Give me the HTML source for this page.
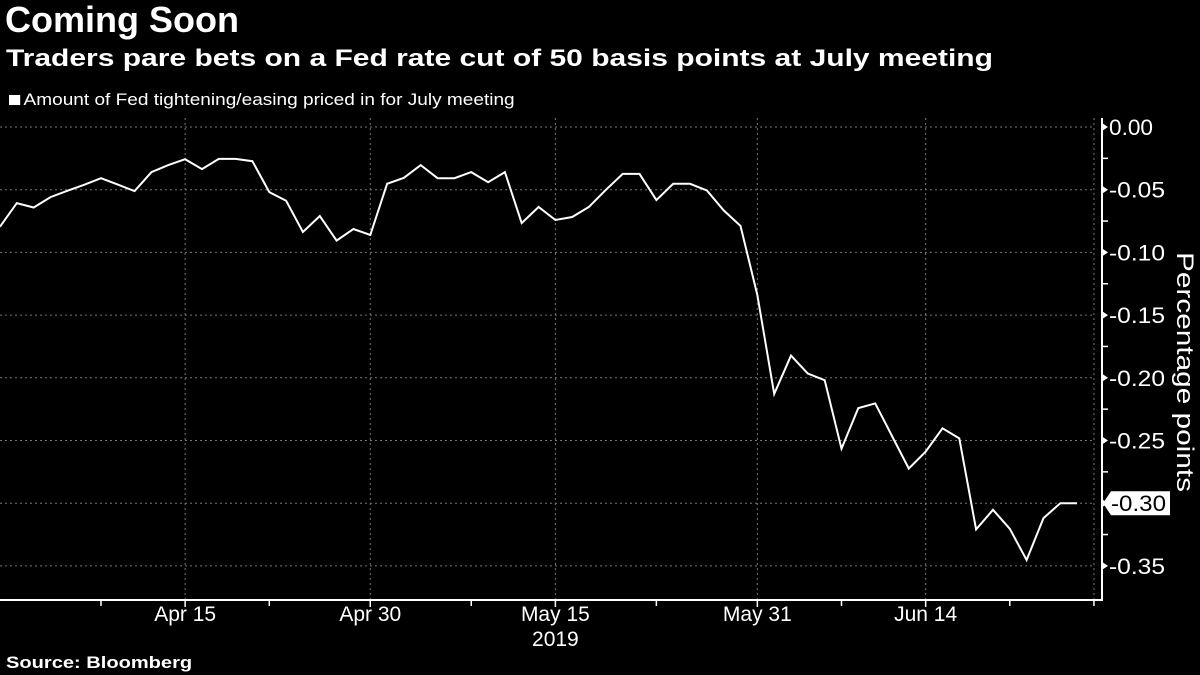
<!DOCTYPE html>
<html><head><meta charset="utf-8">
<style>
html,body{margin:0;padding:0;background:#000;width:1200px;height:675px;overflow:hidden;font-family:"Liberation Sans",sans-serif;color:#fff}
.t{position:absolute;white-space:nowrap;transform-origin:0 0}
</style></head><body>
<div class="t" style="left:5px;top:-1px;font-size:36px;font-weight:bold">Coming Soon</div>
<div class="t" style="left:6px;top:45px;font-size:24px;font-weight:bold;transform:scaleX(1.25)">Traders pare bets on a Fed rate cut of 50 basis points at July meeting</div>
<div class="t" style="left:9px;top:90px;font-size:17px;transform:scaleX(1.12)"><span style="display:inline-block;width:10px;height:10px;background:#fff;margin-right:3px"></span>Amount of Fed tightening/easing priced in for July meeting</div>
<div class="t" style="left:6px;top:653px;font-size:17px;font-weight:bold;transform:scaleX(1.18)">Source: Bloomberg</div>
<svg id="c" width="1200" height="675" style="position:absolute;left:0;top:0"></svg>
<script>
const values=[-0.0795,-0.0607,-0.0642,-0.0559,-0.0509,-0.0461,-0.0408,-0.0459,-0.0511,-0.0360,-0.0304,-0.0257,-0.0336,-0.0254,-0.0254,-0.0273,-0.0519,-0.0588,-0.0837,-0.0710,-0.0906,-0.0813,-0.0861,-0.0453,-0.0405,-0.0304,-0.0408,-0.0408,-0.0360,-0.0440,-0.0360,-0.0766,-0.0638,-0.0742,-0.0718,-0.0636,-0.0501,-0.0374,-0.0374,-0.0583,-0.0453,-0.0453,-0.0506,-0.0665,-0.0789,-0.1338,-0.2128,-0.1823,-0.1966,-0.2019,-0.2565,-0.2242,-0.2204,-0.2464,-0.2724,-0.2589,-0.2403,-0.2483,-0.3209,-0.3053,-0.3204,-0.3453,-0.3119,-0.3000,-0.3000];
const xTickIdx=[11,22,33,45,55];
const xTickLabels=["Apr 15","Apr 30","May 15","May 31","Jun 14"];
const xMinorIdx=[6,16,28,39,50,60,65];
const yTicks=[0,-0.05,-0.10,-0.15,-0.20,-0.25,-0.30,-0.35];
const yTickLabels=["0.00","-0.05","-0.10","-0.15","-0.20","-0.25","-0.30","-0.35"];
const lastLabel="-0.30";
const NS="http://www.w3.org/2000/svg";
const svg=document.getElementById('c');
const X=i=>i*16.83;
const Y=v=>127-v/0.05*62.7;
function mk(t,a){const e=document.createElementNS(NS,t);for(const k in a)e.setAttribute(k,a[k]);svg.appendChild(e);return e;}
yTicks.forEach((v,i)=>{
  const g=mk('line',{x1:0,x2:1095,y1:Y(v),y2:Y(v),stroke:'#777','stroke-width':1,'stroke-dasharray':'2,3'});
  
  
  const tr=mk('path',{d:`M1102,${Y(v)-4}L1108,${Y(v)}L1102,${Y(v)+4}Z`,fill:'#fff'});
  
  
  if(i<yTicks.length-1){const m=mk('line',{x1:1102,x2:1108,y1:Y(v-0.025),y2:Y(v-0.025),stroke:'#fff','stroke-width':1.5});
  
  }
  if(yTickLabels[i]!==lastLabel){
  const t=mk('text',{x:1109,y:Y(v)+8,fill:'#fff','font-size':22,'font-family':'Liberation Sans, sans-serif','lengthAdjust':'spacingAndGlyphs'});
  t.textContent=yTickLabels[i];
  t.setAttribute('textLength',yTickLabels[i].length===4?44:56);
  
  }
});
xTickIdx.forEach((idx,i)=>{
  const g=mk('line',{x1:X(idx),x2:X(idx),y1:118,y2:600,stroke:'#777','stroke-width':1,'stroke-dasharray':'2,3'});
  
  
  const tk=mk('line',{x1:X(idx),x2:X(idx),y1:600,y2:607,stroke:'#fff','stroke-width':1.5});
  
  
  const t=mk('text',{x:X(idx),y:621,fill:'#fff','font-size':21,'text-anchor':'middle','font-family':'Liberation Sans, sans-serif'});
  t.textContent=xTickLabels[i];
  
  
});
const eg=mk('line',{x1:X(65),x2:X(65),y1:118,y2:600,stroke:'#777','stroke-width':1,'stroke-dasharray':'2,3'});


xMinorIdx.forEach(idx=>{
  const tk=mk('line',{x1:X(idx),x2:X(idx),y1:600,y2:606,stroke:'#fff','stroke-width':1.5});
  
  
});
const yr=mk('text',{x:X(33),y:646,fill:'#fff','font-size':21,'text-anchor':'middle','font-family':'Liberation Sans, sans-serif'});
yr.textContent='2019';


const xa=mk('line',{x1:0,x2:1102,y1:600,y2:600,stroke:'#fff','stroke-width':2});


const ya=mk('line',{x1:1102,x2:1102,y1:118,y2:601,stroke:'#fff','stroke-width':2});


const pts=values.map((v,i)=>X(i).toFixed(1)+','+Y(v).toFixed(1)).join(' ');
const ln=mk('polyline',{points:pts,fill:'none',stroke:'#fff','stroke-width':2,'stroke-linejoin':'miter'});


const lv=values[values.length-1], ly=Y(lv);
const box=mk('path',{d:`M1103,${ly}L1111,${ly-12}L1170,${ly-12}L1170,${ly+12}L1111,${ly+12}Z`,fill:'#fff'});


const lt=mk('text',{x:1111,y:ly+8,fill:'#000','font-size':22,'font-family':'Liberation Sans, sans-serif','textLength':55,'lengthAdjust':'spacingAndGlyphs'});
lt.textContent=lastLabel;


const yt=mk('text',{x:0,y:0,fill:'#fff','font-size':24,'text-anchor':'middle','transform':'translate(1177,372) rotate(90)','font-family':'Liberation Sans, sans-serif','textLength':240,'lengthAdjust':'spacingAndGlyphs'});
yt.textContent='Percentage points';


</script>
</body></html>
